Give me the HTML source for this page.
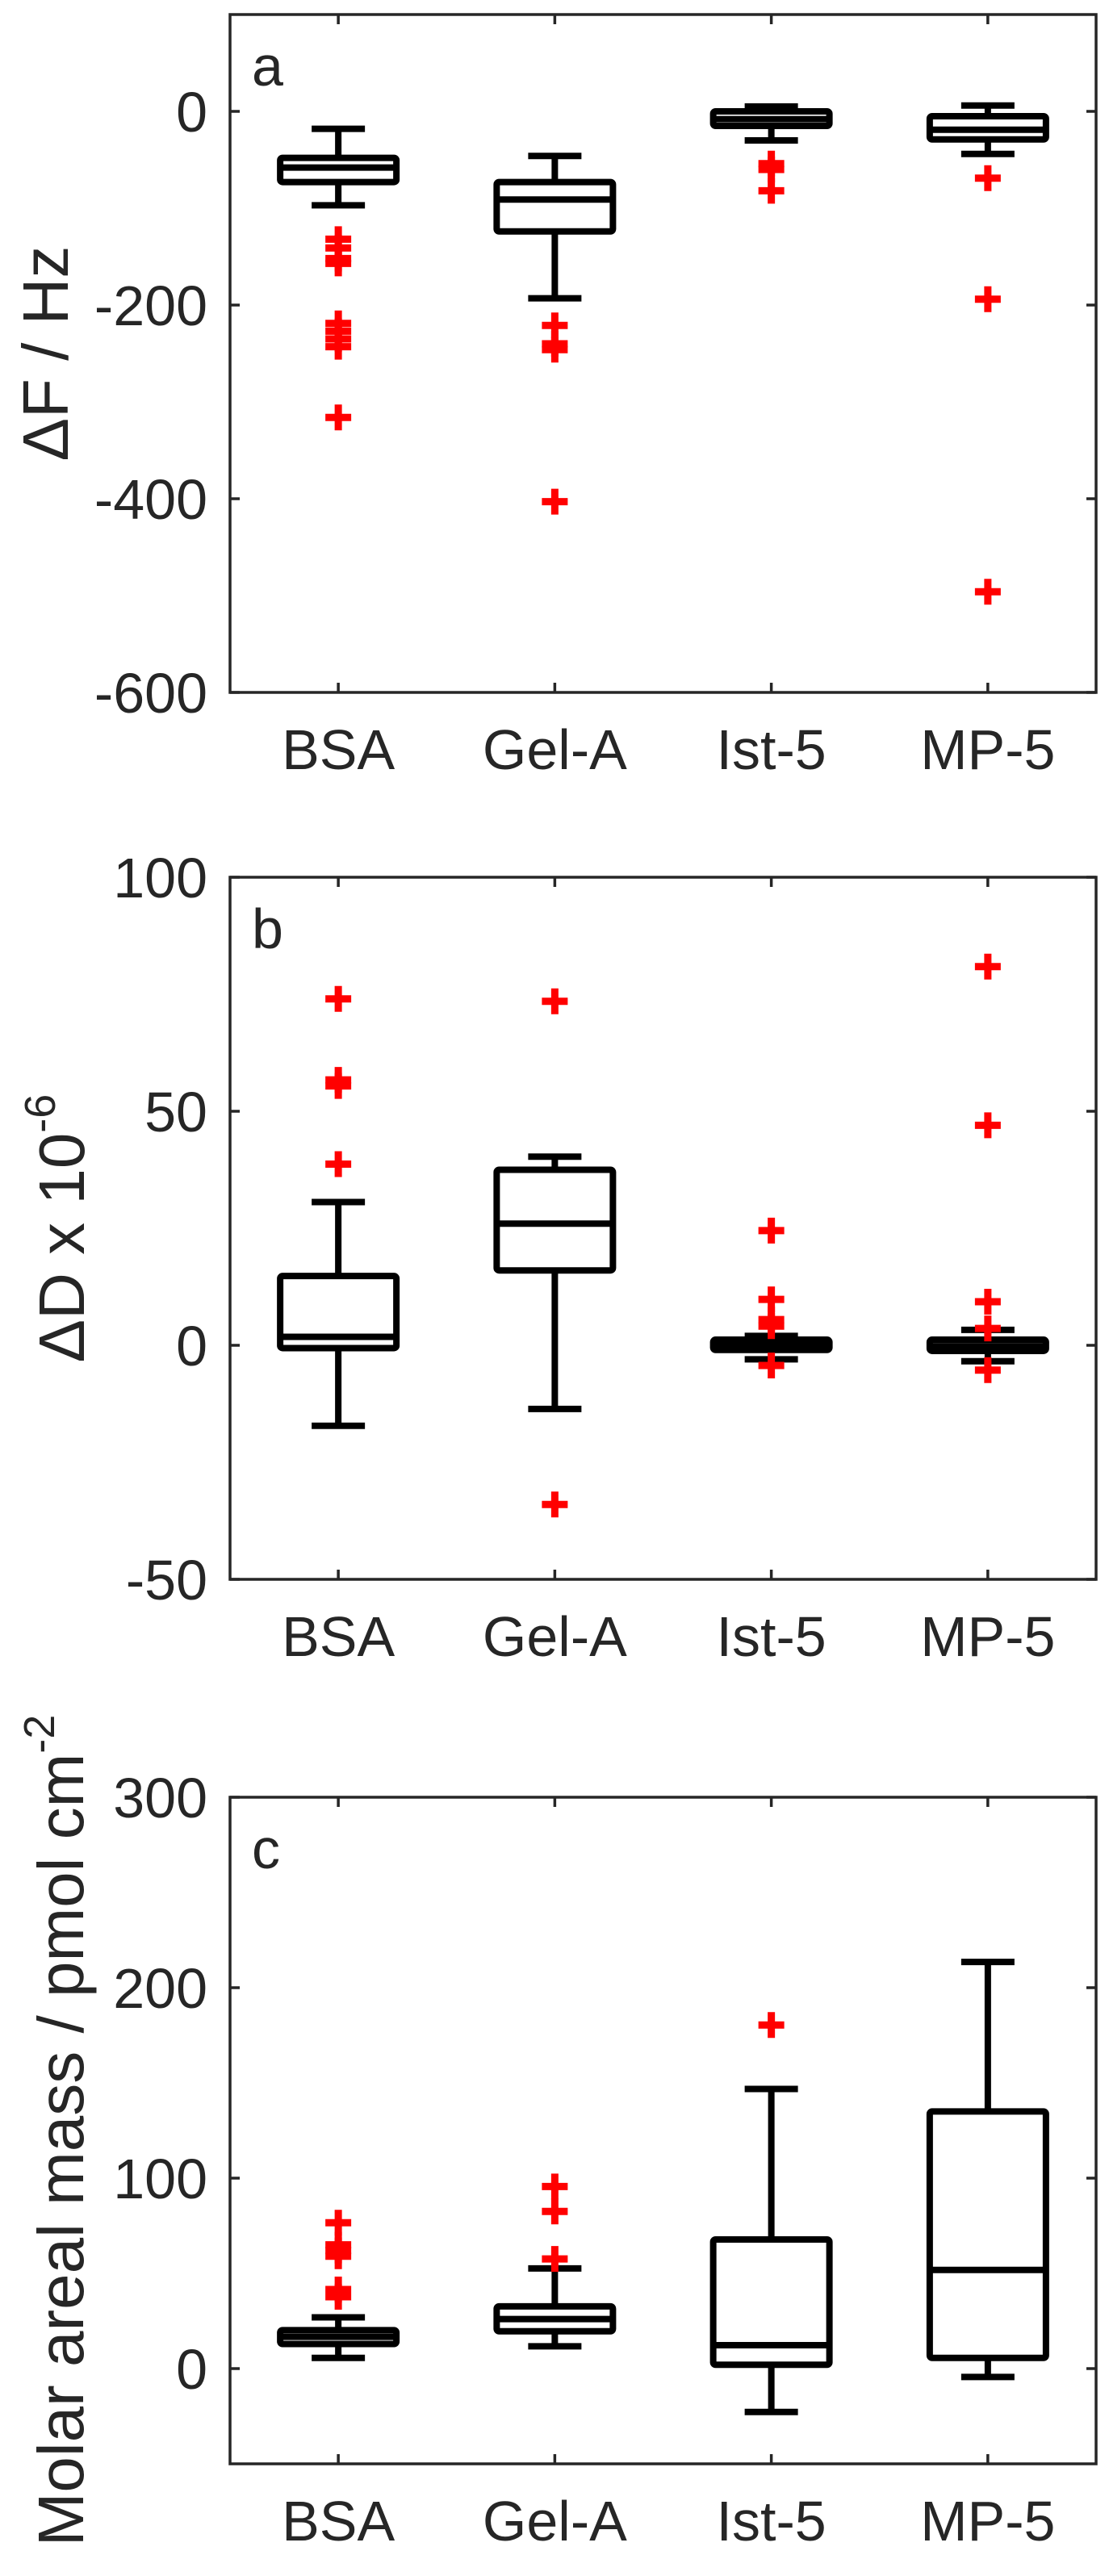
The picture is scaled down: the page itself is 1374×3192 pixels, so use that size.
<!DOCTYPE html>
<html><head><meta charset="utf-8">
<style>
html,body{margin:0;padding:0;background:#fff;}
svg{display:block;}
text{font-family:"Liberation Sans",Arial,sans-serif;fill:#262626;}
</style></head>
<body>
<svg id="fig" width="1374" height="3192" viewBox="0 0 1374 3192" xmlns="http://www.w3.org/2000/svg"></svg>
<script>
const categories = ["BSA","Gel-A","Ist-5","MP-5"];

// Panel a: ΔF / Hz  [lowerWhisker, Q1, median, Q3, upperWhisker]
const statsA = [[-97,-73,-58,-48,-18],[-193,-124,-91,-73,-46],[-30,-15,-8,0,5],[-44,-29,-19,-5,6]];
const outliersA = [[-132,-141,-152,-157,-219,-227,-235,-243,-316],[-221,-240,-246,-403],[-54,-60,-82],[-69,-194,-496]];
const ticksA = [0,-200,-400,-600];
const tickLabelsA = ["0","-200","-400","-600"];

// Panel b: ΔD x 10^-6
const statsB = [[-17.2,-0.6,1.8,14.8,30.6],[-13.6,16,26,37.5,40.3],[-3,-1,0,1.2,2],[-3.4,-1.2,-0.2,1.2,3.3]];
const outliersB = [[74,56.7,55.4,38.7],[73.5,-34],[24.5,9.8,5.5,4.1,-4.3],[80.9,47,9.3,3.6,-5.3]];
const ticksB = [100,50,0,-50];
const tickLabelsB = ["100","50","0","-50"];

// Panel c: Molar areal mass
const statsC = [[5.6,12.9,16.7,20.2,26.9],[11.7,19.6,26,32.7,52.6],[-22.8,2,12.3,67.8,146.8],[-4.4,5.6,51.8,135,213.5]];
const outliersC = [[76.6,65,62,59,41.5,37.7],[95.6,82.5,57.6],[180.4],[]];
const ticksC = [300,200,100,0];
const tickLabelsC = ["300","200","100","0"];

const NS="http://www.w3.org/2000/svg";
const svg=document.getElementById('fig');
function mk(tag,attrs,parent){const e=document.createElementNS(NS,tag);for(const k in attrs)e.setAttribute(k,attrs[k]);(parent||svg).appendChild(e);return e;}

const panels=[
 {id:'a',letter:'a',top:18,bottom:858,ymin:-600,ymax:100,stats:statsA,out:outliersA,ticks:ticksA,tl:tickLabelsA,title:'ΔF / Hz',titleX:84},
 {id:'b',letter:'b',top:1087,bottom:1957,ymin:-50,ymax:100,stats:statsB,out:outliersB,ticks:ticksB,tl:tickLabelsB,title:'ΔD x 10',sup:'-6',titleX:104},
 {id:'c',letter:'c',top:2227,bottom:3053,ymin:-50,ymax:300,stats:statsC,out:outliersC,ticks:ticksC,tl:tickLabelsC,title:'Molar areal mass / pmol cm',sup:'-2',titleX:103}
];
const L=285,R=1358;
function xs(i){return L+(i+0.5)*(R-L)/categories.length;}

panels.forEach(p=>{
  const g=mk('g',{});
  
  
  const ys=v=>p.bottom-(v-p.ymin)/(p.ymax-p.ymin)*(p.bottom-p.top);
  // ticks
  p.ticks.forEach((t,k)=>{
    const y=ys(t);
    const tk=mk('path',{d:`M${L},${y}h12M${R},${y}h-12`,stroke:'#262626','stroke-width':3.5},g);
    
    
    const tx=mk('text',{x:257,y:y+25,'text-anchor':'end','font-size':70},g);
    tx.textContent=p.tl[k];
    
    
  });
  categories.forEach((c,i)=>{
    const x=xs(i);
    const tk=mk('path',{d:`M${x},${p.bottom}v-12M${x},${p.top}v12`,stroke:'#262626','stroke-width':3.5},g);
    
    
    const tx=mk('text',{x:x,y:p.bottom+95,'text-anchor':'middle','font-size':70},g);
    tx.textContent=c;
    
    
  });
  // boxes
  p.stats.forEach((s,i)=>{
    const x=xs(i),bw=72,cw=33;
    const bg=mk('g',{stroke:'#000','stroke-width':8,fill:'none','stroke-linejoin':'round'},g);
    
    
    mk('path',{d:`M${x},${ys(s[3])}V${ys(s[4])}M${x-cw},${ys(s[4])}H${x+cw}M${x},${ys(s[1])}V${ys(s[0])}M${x-cw},${ys(s[0])}H${x+cw}`},bg);
    mk('rect',{x:x-bw,y:ys(s[3]),width:2*bw,height:Math.max(0.5,ys(s[1])-ys(s[3])),rx:3},bg);
    mk('path',{d:`M${x-bw},${ys(s[2])}H${x+bw}`},bg);
  });
  // outliers
  p.out.forEach((arr,i)=>{
    const x=xs(i);
    arr.forEach(v=>{
      const y=ys(v);
      const o=mk('path',{d:`M${x-16},${y}h32M${x},${y-16}v32`,stroke:'#ff0000','stroke-width':9},g);
      
      
    });
  });
  // frame
  const fr=mk('rect',{x:L,y:p.top,width:R-L,height:p.bottom-p.top,fill:'none',stroke:'#262626','stroke-width':3.5},g);
  
  
  const lt=mk('text',{x:312,y:p.top+88,'font-size':70,fill:'#000'},g);
  lt.textContent=p.letter;
  
  
  const cy=(p.top+p.bottom)/2;
  const tt=mk('text',{transform:`translate(${p.titleX},${cy}) rotate(-90)`,'text-anchor':'middle','font-size':80},g);
  
  
  tt.appendChild(document.createTextNode(p.title));
  if(p.sup){const ts=mk('tspan',{'font-size':54,dy:-36},tt);ts.textContent=p.sup;}
});
</script>
</body></html>
